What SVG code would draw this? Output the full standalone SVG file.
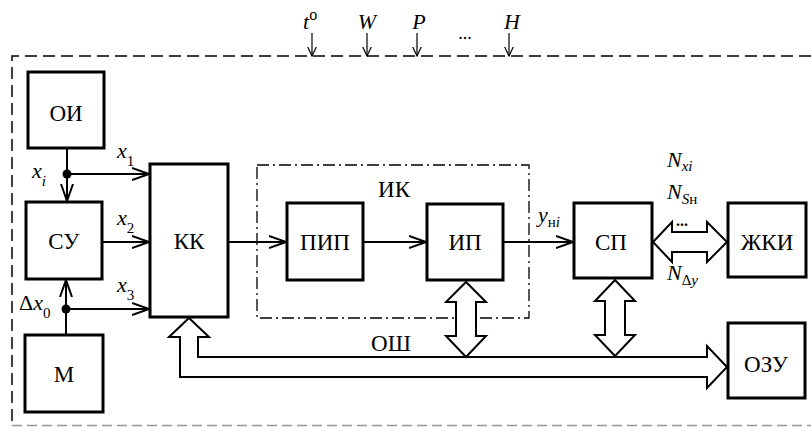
<svg xmlns="http://www.w3.org/2000/svg" width="811" height="427" viewBox="0 0 811 427">
<style>
text{font-family:"Times New Roman",Times,Tinos,"Liberation Serif","DejaVu Serif","Noto Serif",serif;fill:#000}
.lbl{font-size:23px;text-anchor:middle}
.it{font-style:italic;font-size:22px}
.sub{font-size:15px}
.up{font-style:normal}
.box{fill:#fff;stroke:#000;stroke-width:3}
.wire{fill:none;stroke:#000;stroke-width:2}
.thin{fill:none;stroke:#000;stroke-width:1.2}
.bus{fill:#fff;stroke:#000;stroke-width:2;stroke-linejoin:miter}
</style>
<defs>
<marker id="arr" viewBox="0 0 18 14" refX="17" refY="7" markerWidth="18" markerHeight="14" markerUnits="userSpaceOnUse" orient="auto">
<path d="M0,1 L17,7 L0,13" fill="none" stroke="#000" stroke-width="2"/>
</marker>
<marker id="sarr" viewBox="0 0 10 10" refX="9.5" refY="5" markerWidth="10" markerHeight="10" markerUnits="userSpaceOnUse" orient="auto">
<path d="M0,0.5 L9.5,5 L0,9.5" fill="none" stroke="#000" stroke-width="1.2"/>
</marker>
</defs>
<rect width="811" height="427" fill="#fff"/>

<g id="frame">
<path d="M811,56 H12 V427" fill="none" stroke="#000" stroke-width="1.5" stroke-dasharray="12,6"/>
<line x1="12" y1="425.5" x2="811" y2="425.5" stroke="#999" stroke-width="1.5" stroke-dasharray="10,5"/>
</g>

<g id="ik">
<rect x="257" y="165" width="272" height="153" fill="none" stroke="#000" stroke-width="1.3" stroke-dasharray="12,4,2,4"/>
<text class="lbl" x="394" y="197">ИК</text>
</g>

<g id="inputs">
<text class="it" x="303" y="29">t<tspan class="up" font-size="16" dy="-9">o</tspan></text>
<text class="it" x="367" y="29" text-anchor="middle">W</text>
<text class="it" x="419" y="29" text-anchor="middle">P</text>
<text x="465" y="39" text-anchor="middle" font-size="18">...</text>
<text class="it" x="512" y="29" text-anchor="middle">H</text>
</g>

<g id="connectors">
<line class="thin" x1="312" y1="33" x2="312" y2="56" marker-end="url(#sarr)"/>
<line class="thin" x1="367" y1="33" x2="367" y2="56" marker-end="url(#sarr)"/>
<line class="thin" x1="417" y1="33" x2="417" y2="56" marker-end="url(#sarr)"/>
<line class="thin" x1="509" y1="33" x2="509" y2="56" marker-end="url(#sarr)"/>
<line class="wire" x1="67" y1="148" x2="67" y2="201" marker-end="url(#arr)"/>
<line class="wire" x1="67" y1="174" x2="149" y2="174" marker-end="url(#arr)"/>
<line class="wire" x1="102" y1="242" x2="149" y2="242" marker-end="url(#arr)"/>
<line class="wire" x1="66" y1="309" x2="149" y2="309" marker-end="url(#arr)"/>
<line class="wire" x1="66" y1="335" x2="66" y2="280" marker-end="url(#arr)"/>
<line class="wire" x1="228" y1="242" x2="286" y2="242" marker-end="url(#arr)"/>
<line class="wire" x1="363" y1="242" x2="426" y2="242" marker-end="url(#arr)"/>
<line class="wire" x1="503" y1="242" x2="573" y2="242" marker-end="url(#arr)"/>
<circle cx="67" cy="174" r="4.5" fill="#000"/>
<circle cx="66" cy="309" r="4.5" fill="#000"/>
<path class="bus" d="M189,318 L209,337 L198,337 L198,357 L707,357 L707,346 L727,367 L707,388 L707,377 L180,377 L180,337 L169,337 Z"/>
<path class="bus" d="M466,282 L486,302 L476,302 L476,336 L486,336 L466,357 L446,336 L456,336 L456,302 L446,302 Z"/>
<path class="bus" d="M615,280 L635,301 L625,301 L625,335 L635,335 L615,356 L595,335 L605,335 L605,301 L595,301 Z"/>
<path class="bus" d="M653,242 L672,222 L672,232 L707,232 L707,222 L727,242 L707,262 L707,252 L672,252 L672,262 Z"/>
<text x="682" y="226" font-size="16" font-weight="bold" text-anchor="middle">...</text>
</g>

<g id="labels">
<text class="it" x="32" y="178">x<tspan class="sub" dy="8">i</tspan></text>
<text class="it" x="117" y="158">x<tspan class="sub up" dy="8">1</tspan></text>
<text class="it" x="117" y="225">x<tspan class="sub up" dy="8">2</tspan></text>
<text class="it" x="117" y="292">x<tspan class="sub up" dy="8">3</tspan></text>
<text class="it" x="19" y="310"><tspan class="up">Δ</tspan>x<tspan class="sub up" dy="8">0</tspan></text>
<text class="it" x="538" y="222">y<tspan class="sub up" dy="5">н</tspan><tspan class="sub">i</tspan></text>
<text class="it" x="667" y="167">N<tspan class="sub" dy="4">xi</tspan></text>
<text class="it" x="667" y="199">N<tspan class="sub" dy="5">S</tspan><tspan class="sub up">н</tspan></text>
<text class="it" x="667" y="280">N<tspan class="sub up" dy="5">Δ</tspan><tspan class="sub">y</tspan></text>
<text class="lbl" x="391" y="351">ОШ</text>
</g>

<g id="OI"><rect class="box" x="28" y="72" width="76" height="76"/><text class="lbl" x="66" y="121">ОИ</text></g>
<g id="SU"><rect class="box" x="26" y="202" width="76" height="77"/><text class="lbl" x="64" y="249">СУ</text></g>
<g id="M"><rect class="box" x="25" y="335" width="78" height="77"/><text class="lbl" x="64" y="382">М</text></g>
<g id="KK"><rect class="box" x="150" y="164" width="78" height="153"/><text class="lbl" x="189" y="249">КК</text></g>
<g id="PIP"><rect class="box" x="287" y="203" width="76" height="77"/><text class="lbl" x="325" y="250">ПИП</text></g>
<g id="IP"><rect class="box" x="427" y="204" width="76" height="76"/><text class="lbl" x="465" y="250">ИП</text></g>
<g id="SP"><rect class="box" x="574" y="203" width="78" height="75"/><text class="lbl" x="611" y="250">СП</text></g>
<g id="ZhKI"><rect class="box" x="728" y="203" width="78" height="74"/><text class="lbl" x="767" y="250">ЖКИ</text></g>
<g id="OZU"><rect class="box" x="728" y="323" width="77" height="75"/><text class="lbl" x="766" y="372">ОЗУ</text></g>
</svg>
